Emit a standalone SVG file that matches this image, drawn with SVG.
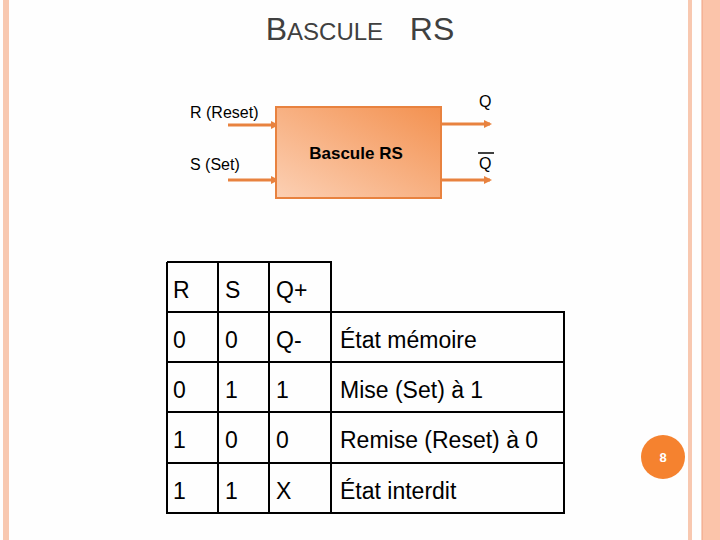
<svg xmlns="http://www.w3.org/2000/svg" width="720" height="540" viewBox="0 0 720 540">
<style>
text{font-family:"Liberation Sans",Arial,sans-serif;fill:#000}
.lbl{font-size:16px}
.t{font-size:23px}
.w{stroke:#e8823f;stroke-width:3;fill:none;marker-end:url(#ah)}
.g{stroke:#000;stroke-width:2;fill:none}
</style>
<defs>
<marker id="ah" markerWidth="8" markerHeight="8" refX="6" refY="4" orient="auto" markerUnits="userSpaceOnUse"><path d="M0,0 L8,4 L0,8 Z" fill="#e8823f"/></marker>
<linearGradient id="bg" x1="0" y1="1" x2="1" y2="0"><stop offset="0" stop-color="#fcd0b4"/><stop offset="1" stop-color="#f39150"/></linearGradient>
</defs>
<rect width="720" height="540" fill="#fefefe"/>
<rect x="3" y="0" width="6" height="540" fill="#f8c8b0"/>
<rect x="688" y="0" width="4" height="540" fill="#f8c8b0"/>
<rect x="702" y="0" width="18" height="540" fill="#fbc4aa"/>
<line x1="702" y1="0" x2="702" y2="540" stroke="#f0a080" stroke-width="1"/>
<text x="360" y="40" text-anchor="middle" xml:space="preserve" style="font-size:32px;fill:#404040">B<tspan style="font-size:24px">ASCULE</tspan>   RS</text>
<g id="connectors">
<line class="w" x1="228" y1="125" x2="277" y2="125"/>
<line class="w" x1="228" y1="180" x2="277" y2="180"/>
<line class="w" x1="441" y1="124" x2="490" y2="124"/>
<line class="w" x1="441" y1="180" x2="490" y2="180"/>
</g>
<g id="block"><rect x="276" y="107" width="165" height="91" fill="url(#bg)" stroke="#e8823f" stroke-width="2"/><text x="356" y="159" text-anchor="middle" style="font-size:17px;font-weight:bold">Bascule RS</text></g>
<g id="labels">
<text class="lbl" x="190" y="118">R (Reset)</text>
<text class="lbl" x="190" y="170">S (Set)</text>
<text class="lbl" x="479" y="107">Q</text>
<text class="lbl" x="479" y="169">Q</text>
<line x1="478" y1="153" x2="494" y2="153" stroke="#000" stroke-width="1.5"/>
</g>
<g id="table">
<path class="g" d="M167,262 H331 V513 M167,262 V513 H564 V312 H167 M167,362 H564 M167,412 H564 M167,463 H564 M218,262 V513 M269,262 V513"/>
<g class="t">
<text x="173" y="298">R</text><text x="225" y="298">S</text><text x="276" y="298">Q+</text>
<text x="173" y="348">0</text><text x="225" y="348">0</text><text x="276" y="348">Q-</text><text x="340" y="348">État mémoire</text>
<text x="173" y="398">0</text><text x="225" y="398">1</text><text x="276" y="398">1</text><text x="340" y="398">Mise (Set) à 1</text>
<text x="173" y="448">1</text><text x="225" y="448">0</text><text x="276" y="448">0</text><text x="340" y="448">Remise (Reset) à 0</text>
<text x="173" y="499">1</text><text x="225" y="499">1</text><text x="276" y="499">X</text><text x="340" y="499">État interdit</text>
</g>
</g>
<g id="page"><circle cx="663" cy="457" r="22" fill="#f5822f"/><text x="663" y="462" text-anchor="middle" style="font-size:13px;font-weight:bold;fill:#fff">8</text></g>
</svg>
